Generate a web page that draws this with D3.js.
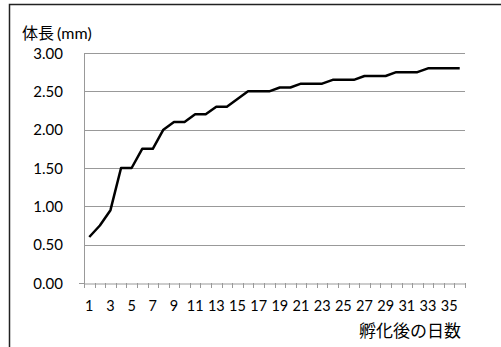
<!DOCTYPE html>
<html>
<head>
<meta charset="utf-8">
<script src="https://cdn.jsdelivr.net/npm/d3@7"></script>
<style>
body { margin: 0; background: #fff; }
text { font-family: Lato, "Noto Sans CJK JP", sans-serif; fill: #000; }
</style>
</head>
<body>
<script>
var days = d3.range(1, 37);
var lengths = [0.6, 0.75, 0.95, 1.5, 1.5, 1.75, 1.75, 2.0, 2.1, 2.1, 2.2, 2.2,
    2.3, 2.3, 2.4, 2.5, 2.5, 2.5, 2.55, 2.55, 2.6, 2.6, 2.6, 2.65,
    2.65, 2.65, 2.7, 2.7, 2.7, 2.75, 2.75, 2.75, 2.8, 2.8, 2.8, 2.8];
var yTicks = [0, 0.5, 1, 1.5, 2, 2.5, 3];
var yTitle = "体長";
var yUnit = "(mm)";
var xTitle = "孵化後の日数";

var width = 501;
var height = 347;
var plot = { left: 84, right: 465, top: 53, bottom: 283 };

var svg = d3.select("body")
    .append("svg")
    .attr("width", width)
    .attr("height", height)

// outer frame (runs off the right and bottom edges)
svg.append("rect")
    .attr("x", 9.5)
    .attr("y", 4.5)
    .attr("width", 520)
    .attr("height", 360)
    .attr("fill", "none")
    .attr("stroke", "#222")
    .attr("stroke-width", 1.5)

var xScale = d3.scaleBand()
    .domain(days)
    .range([plot.left, plot.right]);
var yScale = d3.scaleLinear()
    .domain([0, 3])
    .range([plot.bottom, plot.top]);

// gridlines
svg.selectAll(".grid")
    .data(yTicks.filter(function (d) { return d > 0 }))
    .enter()
    .append("line")
    .attr("class", "grid")
    .attr("x1", plot.left)
    .attr("x2", plot.right)
    .attr("y1", function (d) { return Math.round(yScale(d)) + 0.5 })
    .attr("y2", function (d) { return Math.round(yScale(d)) + 0.5 })
    .attr("stroke", "#999")
    .attr("stroke-width", 1)

// y labels
svg.selectAll(".ylab")
    .data(yTicks)
    .enter()
    .append("text")
    .attr("class", "ylab")
    .attr("x", 63)
    .attr("y", function (d) { return yScale(d) + 5.5 })
    .attr("text-anchor", "end")
    .attr("font-size", 15)
    .text(function (d) { return d.toFixed(2) })

// y axis line
svg.append("line")
    .attr("x1", plot.left + 0.5).attr("x2", plot.left + 0.5)
    .attr("y1", plot.top).attr("y2", plot.bottom + 4)
    .attr("stroke", "#999")
svg.append("line")
    .attr("x1", plot.left - 5).attr("x2", plot.left)
    .attr("y1", plot.bottom + 0.5).attr("y2", plot.bottom + 0.5)
    .attr("stroke", "#999")

// x axis
var xAxis = d3.axisBottom(xScale)
    .tickSize(0)
    .tickFormat(function (d) { return d % 2 === 1 ? d : "" });
var gx = svg.append("g")
    .attr("transform", "translate(0," + (plot.bottom + 0.5) + ")")
    .call(xAxis)
gx.select(".domain").attr("stroke", "#999")
gx.selectAll("text")
    .attr("dy", 0)
    .attr("y", 27)
    .attr("font-size", 14.5)
    .attr("font-family", null)

// tick marks at band boundaries
svg.selectAll(".xtick")
    .data(days.concat([37]))
    .enter()
    .append("line")
    .attr("class", "xtick")
    .attr("x1", function (d, i) { return Math.round(plot.left + i * xScale.step()) + 0.5 })
    .attr("x2", function (d, i) { return Math.round(plot.left + i * xScale.step()) + 0.5 })
    .attr("y1", plot.bottom)
    .attr("y2", plot.bottom + 5)
    .attr("stroke", "#999")

// line
var line = d3.line()
    .x(function (d, i) { return xScale(days[i]) + xScale.bandwidth() / 2 })
    .y(function (d) { return yScale(d) });
svg.append("path")
    .datum(lengths)
    .attr("d", line)
    .attr("fill", "none")
    .attr("stroke", "#000")
    .attr("stroke-width", 2.5)
    .attr("stroke-linejoin", "round")

// titles
var yt = svg.append("text")
    .attr("x", 22)
    .attr("y", 39)
    .attr("font-size", 16)
yt.append("tspan").text(yTitle)
yt.append("tspan").attr("font-size", 16).attr("dx", 3).text(yUnit)
svg.append("text")
    .attr("x", 461)
    .attr("y", 337)
    .attr("text-anchor", "end")
    .attr("font-size", 17)
    .text(xTitle)
</script>
</body>
</html>
